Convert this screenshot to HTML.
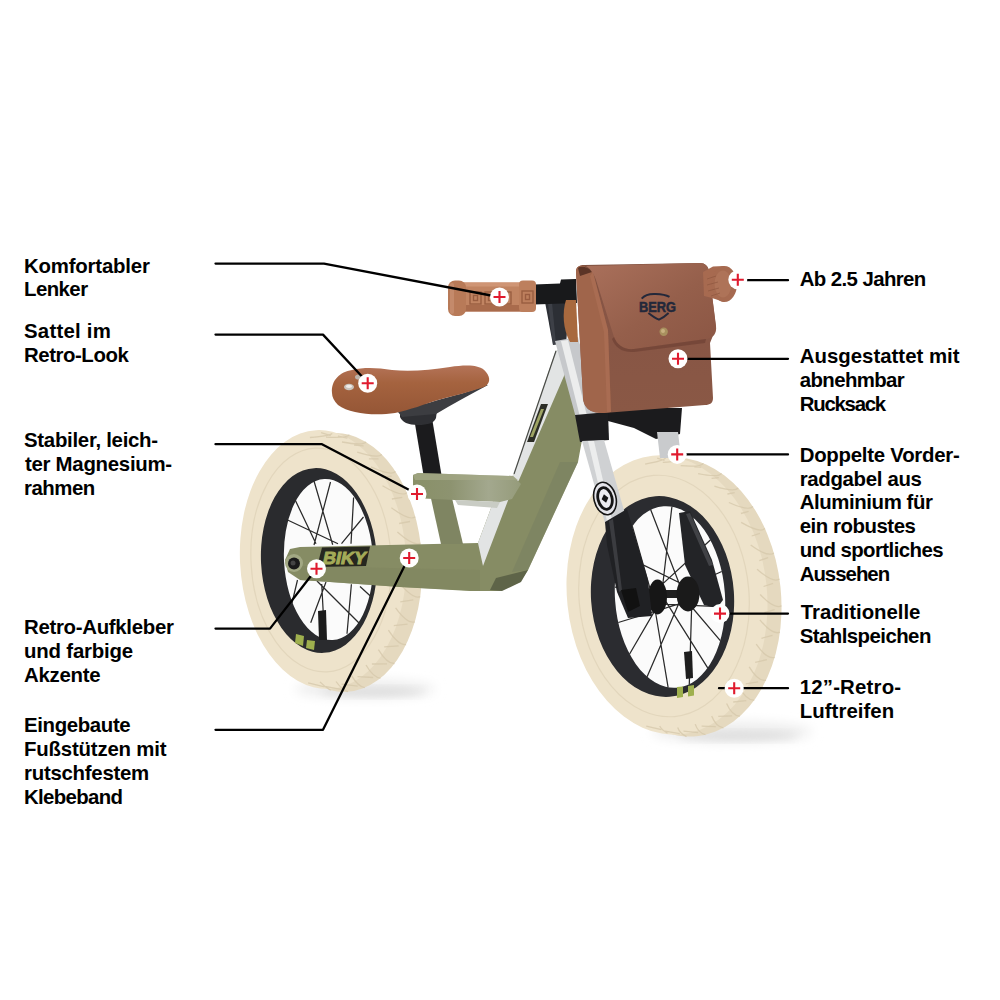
<!DOCTYPE html>
<html><head><meta charset="utf-8">
<style>
html,body{margin:0;padding:0;background:#fff;}
body{width:1000px;height:1000px;position:relative;overflow:hidden;}
svg{position:absolute;left:0;top:0;}
.t{position:absolute;font-family:"Liberation Sans",sans-serif;font-weight:bold;font-size:20.4px;line-height:24px;color:#000;white-space:nowrap;}
</style></head><body>
<svg width="1000" height="1000" viewBox="0 0 1000 1000">
<defs>
<filter id="blur6" x="-50%" y="-50%" width="200%" height="200%"><feGaussianBlur stdDeviation="6"/></filter>
</defs>
<!-- shadows -->
<filter id="blur4" x="-50%" y="-50%" width="200%" height="200%"><feGaussianBlur stdDeviation="4"/></filter>
<ellipse cx="365" cy="689" rx="70" ry="9" fill="#ececec" filter="url(#blur6)"/>
<ellipse cx="372" cy="692" rx="52" ry="4" fill="#dcdcdc" filter="url(#blur4)"/>
<ellipse cx="732" cy="732" rx="80" ry="10" fill="#ececec" filter="url(#blur6)"/>
<ellipse cx="738" cy="736" rx="60" ry="4" fill="#dcdcdc" filter="url(#blur4)"/>

<!-- REAR WHEEL -->
<g id="rear">
<ellipse cx="340" cy="562.5" rx="82" ry="129.5" transform="rotate(-3 340 562.5)" fill="#e5d9bf"/>
<ellipse cx="323" cy="559.5" rx="83" ry="129.5" transform="rotate(-3 323 559.5)" fill="#eee3cb"/>
<path d="M309.9 437.5Q330.7 435.7 332.1 433.3M321.1 432.7L330.7 435.7M326.0 437.1Q347.4 438.1 349.3 434.8M337.9 436.2L347.4 438.1M342.0 442.0Q363.5 445.9 366.0 441.9M354.1 445.0L363.5 445.9M357.2 452.1Q378.5 458.8 381.7 454.4M368.9 458.9L378.5 458.8M370.9 466.9Q391.6 476.2 395.5 471.5M381.7 477.1L391.6 476.2M382.5 485.7Q402.3 497.4 406.9 492.6M391.9 499.0L402.3 497.4M391.4 507.8Q410.0 521.5 415.3 516.8M399.1 523.5L410.0 521.5M397.4 532.1Q414.5 547.3 420.5 542.9M403.0 549.5L414.5 547.3M400.2 557.6Q415.6 573.8 422.2 569.9M403.4 576.0L415.6 573.8M399.6 583.2Q413.3 599.8 420.2 596.6M400.3 601.8L413.3 599.8M395.6 607.8Q407.5 624.2 414.8 621.8M393.8 625.7L407.5 624.2M388.4 630.2Q398.6 645.9 406.1 644.5M384.2 646.8L398.6 645.9M378.4 649.6Q387.0 663.9 394.5 663.5M371.9 664.0L387.0 663.9M366.0 665.0Q373.2 677.5 380.5 678.1M357.5 676.7L373.2 677.5M351.7 675.8Q357.7 686.1 364.8 687.7M341.6 684.2L357.7 686.1M336.1 681.5Q341.3 689.3 347.9 691.7M324.9 686.3L341.3 689.3M320.0 681.9Q324.6 686.9 330.7 690.2M308.1 682.8L324.6 686.9" stroke="#d6c8ab" stroke-width="1.3" fill="none" opacity="0.8"/>
<ellipse cx="321" cy="560" rx="70" ry="112" transform="rotate(-3 321 560)" fill="none" stroke="#e2d6bc" stroke-width="1.2"/>
<ellipse cx="319" cy="560.5" rx="58" ry="92.5" transform="rotate(-3 319 560.5)" fill="#2a2b2e"/>
<ellipse cx="328.5" cy="559.5" rx="44.5" ry="80.5" transform="rotate(-3 328.5 559.5)" fill="#fbfbfb"/>
<g stroke="#2a2a2a" stroke-width="1.25" fill="none">
<path d="M332.7 544.8L314 481M314 545L330.5 482M316 543.7L294 497.5M338 543.7L286.5 519.5M351 543.7L353.6 497.5M341.5 543.7L363.5 517M317 581L360 624M326 582L310.7 622.8M321.7 584L324.5 636M351.4 584.3L347 633.8M360 586.5L372 597.5M297.5 580L292 603"/>
</g>
<path d="M296 634 L304 636 L303 646 L295 643 Z" fill="#9fb04e"/>
<path d="M307 640 L315 641 L314 650 L306 648 Z" fill="#9fb04e"/>
<path d="M318 611 L326 610 L327 640 L319 640 Z" fill="#1c1c1c"/>
</g>

<!-- FRONT WHEEL -->
<g id="front">
<ellipse cx="682" cy="597" rx="99" ry="140" transform="rotate(-6 682 597)" fill="#e5d9bf"/>
<ellipse cx="667" cy="595" rx="100" ry="140" transform="rotate(-6 667 595)" fill="#eee3cb"/>
<path d="M645.1 464.1Q664.5 460.5 665.4 458.0M657.2 458.2L664.5 460.5M662.8 462.4Q683.0 461.3 684.4 458.0M675.9 460.0L683.0 461.3M680.7 465.7Q701.3 467.1 703.4 463.2M694.3 466.8L701.3 467.1M698.1 473.6Q718.8 477.7 721.5 473.3M711.6 478.3L718.8 477.7M714.4 486.1Q734.7 492.6 738.2 487.9M727.4 494.0L734.7 492.6M728.9 502.5Q748.6 511.4 752.9 506.5M740.9 513.5L748.6 511.4M741.2 522.4Q759.9 533.4 764.9 528.5M751.7 536.0L759.9 533.4M750.7 544.9Q768.1 557.7 773.9 552.9M759.3 560.6L768.1 557.7M757.1 569.2Q773.1 583.4 779.5 579.0M763.6 586.5L773.1 583.4M760.2 594.5Q774.6 609.6 781.5 605.8M764.4 612.7L774.6 609.6M759.9 619.8Q772.5 635.4 779.9 632.2M761.5 638.3L772.5 635.4M756.2 644.2Q766.9 659.7 774.7 657.3M755.2 662.3L766.9 659.7M749.2 666.8Q758.1 681.8 766.0 680.2M745.7 683.8L758.1 681.8M739.2 686.8Q746.3 700.7 754.3 700.1M733.2 702.0L746.3 700.7M726.6 703.4Q732.1 715.8 739.9 716.2M718.3 716.3L732.1 715.8M711.7 716.0Q715.8 726.6 723.4 727.9M701.6 726.2L715.8 726.6M695.2 724.1Q698.1 732.6 705.4 734.7M683.5 731.2L698.1 732.6M677.7 727.5Q679.8 733.6 686.5 736.6M664.9 731.2L679.8 733.6M659.7 726.1Q661.3 729.6 667.5 733.3M646.3 726.2L661.3 729.6" stroke="#d6c8ab" stroke-width="1.3" fill="none" opacity="0.8"/>
<ellipse cx="664" cy="596" rx="85" ry="121" transform="rotate(-5 664 596)" fill="none" stroke="#e2d6bc" stroke-width="1.2"/>
<ellipse cx="662.5" cy="596.5" rx="71.5" ry="100.5" transform="rotate(-4 662.5 596.5)" fill="#2b2c30"/>
<ellipse cx="670" cy="597" rx="55" ry="91" transform="rotate(-4 670 597)" fill="#fbfbfb"/>
<g stroke="#2a2a2a" stroke-width="1.25" fill="none">
<path d="M656.4 603.9L725.2 606.8M685.8 600.0L720.3 640.6M660.4 592.8L707.7 667.8M692.1 592.3L689.3 684.2M652.8 596.0L668.1 687.3M684.4 590.4L647.1 676.7M659.5 602.6L629.6 654.0M689.0 600.8L618.3 622.5M657.6 590.1L614.8 587.2M690.2 588.0L619.7 553.4M653.6 601.2L632.3 526.2M683.9 595.7L650.7 509.8M661.2 598.0L671.9 506.7M691.6 597.6L692.9 517.3M654.5 591.4L710.4 540.0M687.0 587.2L721.7 571.5"/>
</g>
<!-- right fork (behind) -->
<path d="M679 513 L690 511 L712 560 L723 600 L717 608 L704 605 L685 565 Z" fill="#232427"/>
<path d="M686 514 L690 513 L713 565 L709 566 Z" fill="#55575c" opacity="0.6"/>
<!-- hub -->
<rect x="666" y="590" width="14" height="8" fill="#202020"/>
<ellipse cx="688" cy="594" rx="11.5" ry="17.5" fill="#1a1a1a"/>
<ellipse cx="657.5" cy="597" rx="9.5" ry="17.5" fill="#161616"/>
<!-- rim stripes & valve -->
<path d="M677 687 L683 686.5 L683 697 L677 698 Z" fill="#9fb04e"/>
<path d="M688 686 L694 685 L694 695.5 L688 696.5 Z" fill="#9fb04e"/>
<path d="M684 652 L692 651 L693 678 L686 679 Z" fill="#1e1e1e"/>
</g>

<!-- FRAME -->
<g id="frame">
<!-- seat post -->
<path d="M414 418 L432 418 L442 478 L424 478 Z" fill="#1b1b1d"/>
<!-- main frame -->
<path d="M556 350 L575 352 L582 440 L578 462 L528 570 L520 582 L500 591 L470 591 L400 587 L330 582 L300 580 L288 572 L285 560 L290 549 L300 547 L478 543 L494 500 L514 474 Z" fill="#868c64"/>
<!-- grey side face -->
<path d="M556 350 L572 352 L564 376 L519 480 L512 490 L483 566 L478 543 L494 500 L514 474 Z" fill="#e2e4e4"/>
<path d="M556 351 L514 474" stroke="#4a4c48" stroke-width="1.2"/>
<path d="M527 442 L534 442 L548 404 L541 404 Z" fill="#2c2d26"/>
<path d="M530 437 L533 437 L544 409 L541 409 Z" fill="#9ea464"/>
<!-- dark bottom -->
<path d="M528 570 L521 582 L502 591 L490 590 L496 578 Z" fill="#5e6448"/>
<!-- shading on downtube right -->
<path d="M578 462 L528 570 L512 572 L560 462 Z" fill="#7a8060" opacity="0.6"/>
<!-- seat tube -->
<path d="M430 494 L451 494 L463 544 L441 544 Z" fill="#7f8562"/>
<!-- platform -->
<defs><linearGradient id="platg" x1="0" y1="0" x2="1" y2="0"><stop offset="0" stop-color="#899068"/><stop offset="0.35" stop-color="#8d9370"/><stop offset="0.7" stop-color="#a3a88e"/><stop offset="1" stop-color="#959b7a"/></linearGradient></defs>
<path d="M413 475 L418 473 L513 476 L521 484 L512 499 L500 502 L455 500 L413 498 Z" fill="url(#platg)"/>
<path d="M413 475 L418 473 L513 476 L518 480 L415 480 Z" fill="#a5aa88" opacity="0.7"/>
<path d="M455 500 L500 502 L497 508 L458 505 Z" fill="#c9ccc4"/>
<!-- chain stay lower shade -->
<path d="M300 566 L480 570 L480 591 L400 587 L330 582 L300 580 Z" fill="#80865f" opacity="0.7"/>
<!-- BIKY decal -->
<path d="M322 547.5 L370 546.5 L366 566 L317 567 Z" fill="#26271f"/>
<text x="0" y="0" transform="translate(322 564) skewX(-12)" font-family="Liberation Sans" font-weight="bold" font-size="17.5" fill="#a3ab58" stroke="#a3ab58" stroke-width="1" textLength="43" lengthAdjust="spacingAndGlyphs">BIKY</text>
<!-- rear hub -->
<circle cx="294" cy="563" r="9" fill="#a2a883"/>
<circle cx="294" cy="563.5" r="6" fill="#1a1a1a"/>
<circle cx="293" cy="563" r="2.5" fill="#444"/>
</g>

<!-- SADDLE -->
<path d="M400 405 L438 403 L436 418 C434 423 428 425 418 425 C408 425 402 422 400 417 Z" fill="#2e2f33"/>
<path d="M486 385 C470 392 452 396 438 400 C425 404 412 408 398 412 L402 417 L436 414 C452 404 470 395 488 385 Z" fill="#3c3d41"/>
<defs><linearGradient id="sadg" x1="0" y1="0" x2="0" y2="1"><stop offset="0" stop-color="#b47358"/><stop offset="0.35" stop-color="#a5633f"/><stop offset="1" stop-color="#955636"/></linearGradient></defs>
<path d="M332 393 C331 380 340 372 352 370 C365 367 378 368 392 370 C410 372 430 370 450 367 C465 365 480 364 486 372 C491 378 490 384 484 387 C470 392 452 396 438 400 C425 404 410 410 395 413 C375 416 350 414 338 405 C334 401 332 397 332 393 Z" fill="url(#sadg)"/>
<ellipse cx="349" cy="387" rx="5" ry="3.2" fill="#c9c3bc"/><ellipse cx="349" cy="386.3" rx="3" ry="1.6" fill="#f0ece8"/>
<ellipse cx="359" cy="377" rx="4" ry="2.6" fill="#bdb4ab"/>

<!-- STEM / HANDLEBAR -->
<path d="M545 302 L570 302 L566 343 L553 345 Z" fill="#2c2f35"/>
<path d="M548 303 L552 303 L556 344 L553 345 Z" fill="#4a4d54" opacity="0.6"/>
<path d="M534 284.5 L560 283.5 L561 279.5 L576 279 L577 303 L534 304.5 Z" fill="#18191b"/>
<!-- left grip -->
<rect x="462" y="282.5" width="62" height="29" fill="#c18462"/>
<rect x="462" y="305" width="62" height="6.5" fill="#a96b4c"/>
<rect x="462" y="282.5" width="62" height="4" fill="#cf9575"/>
<rect x="519" y="280.5" width="17" height="31.5" rx="4" fill="#bd7f5d"/>
<rect x="448" y="280.5" width="18" height="35.5" rx="7" fill="#b87a58"/>
<rect x="450" y="283" width="4" height="31" rx="2" fill="#c99273" opacity="0.7"/>
<g fill="none" stroke="#93573b" stroke-width="1.4" opacity="0.85">
<rect x="470" y="292" width="11" height="12"/><rect x="473.5" y="295.5" width="4" height="5"/>
<rect x="485" y="292" width="11" height="12"/><rect x="488.5" y="295.5" width="4" height="5"/>
<rect x="500" y="292" width="11" height="12"/><rect x="503.5" y="295.5" width="4" height="5"/>
<rect x="522" y="291" width="11" height="12"/><rect x="525.5" y="294.5" width="4" height="5"/>
</g>
<!-- silver tube upper -->
<path d="M555 341 L578 337 L598 415 L576 418 Z" fill="#c6c8cb"/>
<path d="M561 341 L568 340 L587 416 L580 417 Z" fill="#eceded"/>
<!-- crown under bag -->
<path d="M600 408 L682 408 L680 434 L656 439 L634 428 L608 421 Z" fill="#1b1b1d"/>
<!-- right fork silver top -->
<path d="M657 432 L678 432 L681 458 L660 458 Z" fill="#c9cbcd"/>
<!-- collar -->
<path d="M575 415 L608 412 L609 440 L580 442 Z" fill="#1d1d1f"/>
<!-- lower silver -->
<path d="M582 441 L604 440 L625 514 L605 523 Z" fill="#cfd1d3"/>
<path d="M588 441 L594 441 L612 520 L607 521 Z" fill="#eceded"/>
<!-- fork logo -->
<g transform="translate(605 498.5) rotate(-14)">
<ellipse rx="11" ry="16.5" fill="#e4e4ea" stroke="#151515" stroke-width="1.6"/>
<ellipse rx="7" ry="11" fill="#ececf0" stroke="#151515" stroke-width="2.8"/>
<path d="M0 -4.5 L3.5 0 L0 4.5 L-3.5 0 Z" fill="#151515"/>
</g>
<!-- lower black fork -->
<path d="M605 522 L627 509 L648 580 L652 616 L628 618 L617 592 L607 545 Z" fill="#202124"/>
<path d="M609 521 L613 519 L622 590 L619 592 Z" fill="#56585c" opacity="0.5"/>
<path d="M621 590 L636 588 L640 606 L628 612 Z" fill="#111"/>

<!-- BAG -->
<defs>
<linearGradient id="flapg" x1="0" y1="0" x2="1" y2="1"><stop offset="0" stop-color="#aa705b"/><stop offset="0.55" stop-color="#955f4b"/><stop offset="1" stop-color="#8b5644"/></linearGradient>
<linearGradient id="bodyg" x1="0" y1="0" x2="0" y2="1"><stop offset="0" stop-color="#7e503f"/><stop offset="0.3" stop-color="#875545"/><stop offset="1" stop-color="#8a5845"/></linearGradient>
</defs>
<!-- strap -->
<path d="M566 300 C562 312 563 330 570 342 L578 342 L576 300 Z" fill="#a8693e"/>
<!-- silhouette / body -->
<path d="M576 272 C576 267 579 265 584 265 L700 263 C705 263 708 266 709 271 L716 328 L710 343 L713 398 C713 403 710 405 705 405 L604 413 C597 413 592 412 588 409 C585 406 583 402 583 396 Z" fill="url(#bodyg)"/>
<!-- gusset -->
<path d="M576 272 C576 267 579 265 584 266 L593 272 L608 330 L611 412 L604 413 C597 413 592 412 588 409 C585 406 583 402 583 396 Z" fill="#a0654b"/>
<path d="M593 272 L608 330 L611 412 L607 412 L604 332 L590 276 Z" fill="#b4765a" opacity="0.45"/>
<path d="M578 268 C580 266 588 266 592 272 L580 276 Z" fill="#5b3426"/>
<!-- flap -->
<path d="M586 266 L700 263 C705 263 708 266 709 271 L716 326 C717 334 713 338 706 339 L634 349 C624 350 617 345 614 337 L596 280 C594 274 591 269 586 266 Z" fill="url(#flapg)"/>
<path d="M614 337 C617 345 624 350 634 349 L706 339 L705 343 L634 352 C622 353 615 347 612 339 Z" fill="#6f4234" opacity="0.7"/>
<!-- BERG logo -->
<path d="M641.7 298.6 Q646 293.5 655.6 294 Q665 294.3 669.5 296.9" stroke="#23283a" stroke-width="2" fill="none"/>
<path d="M648.4 313 Q654.5 317.8 659 319.6 Q663.5 317.8 668.6 313" stroke="#23283a" stroke-width="2" fill="none"/>
<text x="657.5" y="311.5" text-anchor="middle" font-family="Liberation Sans" font-weight="bold" font-size="14.3" fill="#23283a" stroke="#23283a" stroke-width="0.5" textLength="37" lengthAdjust="spacingAndGlyphs">BERG</text>
<circle cx="663.7" cy="331.8" r="4.2" fill="#a8905e"/>
<circle cx="663" cy="331" r="2" fill="#c8b080"/>
<!-- right grip -->
<path d="M703 272 L713 266.5 L724 266 L724 302 L712 298 L704 296 Z" fill="#a76a50"/>
<ellipse cx="724.4" cy="284" rx="12.6" ry="18" fill="#a66a50"/>
<ellipse cx="723" cy="284" rx="8.5" ry="13.5" fill="#b47a5f" opacity="0.55"/>
<g stroke="#86503a" stroke-width="0.9" opacity="0.6" fill="none"><path d="M707 279 L716 276 M707 285 L718 282 M708 291 L719 288 M711 296 L720 293"/></g>

<!-- CALLOUT LINES -->
<g stroke="#000" stroke-width="2.3" fill="none" stroke-linejoin="round" stroke-linecap="round">
<polyline points="215.5,263.6 324,263.6 499,297"/>
<polyline points="215.5,334.6 323,334.6 368,383"/>
<polyline points="215.5,444.2 322,444.2 417,494"/>
<polyline points="215.5,628.6 270,628.6 316.5,568.7"/>
<polyline points="215.5,729.8 323,729.8 408.7,557.5"/>
<line x1="738" y1="280.2" x2="788" y2="280.2"/>
<line x1="678" y1="358.8" x2="788" y2="358.8"/>
<line x1="677" y1="454.4" x2="788" y2="454.4"/>
<line x1="720" y1="613.6" x2="788" y2="613.6"/>
<line x1="719" y1="688.2" x2="788" y2="688.2"/>
</g>
<!-- PLUS MARKERS -->
<g id="plus">
<g transform="translate(499.5,297)"><circle r="9.5" fill="#fff"/><path d="M-6 0H6M0 -6V6" stroke="#e01a2e" stroke-width="2.1"/></g>
<g transform="translate(367.7,383.3)"><circle r="9.5" fill="#fff"/><path d="M-6 0H6M0 -6V6" stroke="#e01a2e" stroke-width="2.1"/></g>
<g transform="translate(417,494)"><circle r="9.5" fill="#fff"/><path d="M-6 0H6M0 -6V6" stroke="#e01a2e" stroke-width="2.1"/></g>
<g transform="translate(316.5,568.7)"><circle r="9.5" fill="#fff"/><path d="M-6 0H6M0 -6V6" stroke="#e01a2e" stroke-width="2.1"/></g>
<g transform="translate(409.2,558)"><circle r="9.5" fill="#fff"/><path d="M-6 0H6M0 -6V6" stroke="#e01a2e" stroke-width="2.1"/></g>
<g transform="translate(737.8,279.8)"><circle r="9.5" fill="#fff"/><path d="M-6 0H6M0 -6V6" stroke="#e01a2e" stroke-width="2.1"/></g>
<g transform="translate(678,358.8)"><circle r="9.5" fill="#fff"/><path d="M-6 0H6M0 -6V6" stroke="#e01a2e" stroke-width="2.1"/></g>
<g transform="translate(677.2,454.4)"><circle r="9.5" fill="#fff"/><path d="M-6 0H6M0 -6V6" stroke="#e01a2e" stroke-width="2.1"/></g>
<g transform="translate(720,613.6)"><circle r="9.5" fill="#fff"/><path d="M-6 0H6M0 -6V6" stroke="#e01a2e" stroke-width="2.1"/></g>
<g transform="translate(734.2,688.2)"><circle r="9.5" fill="#fff"/><path d="M-6 0H6M0 -6V6" stroke="#e01a2e" stroke-width="2.1"/></g>
</g>
</svg>

<div class="t" style="left:24.0px;top:253.7px;letter-spacing:-0.200px">Komfortabler</div>
<div class="t" style="left:24.0px;top:277.4px;letter-spacing:-0.560px">Lenker</div>
<div class="t" style="left:24.0px;top:318.8px;letter-spacing:0.225px">Sattel im</div>
<div class="t" style="left:24.0px;top:342.7px;letter-spacing:-0.444px">Retro-Look</div>
<div class="t" style="left:24.0px;top:428.2px;letter-spacing:-0.280px">Stabiler, leich-</div>
<div class="t" style="left:25.0px;top:452.0px;letter-spacing:-0.277px">ter Magnesium-</div>
<div class="t" style="left:24.0px;top:476.0px;letter-spacing:-0.480px">rahmen</div>
<div class="t" style="left:24.0px;top:615.4px;letter-spacing:-0.300px">Retro-Aufkleber</div>
<div class="t" style="left:24.0px;top:639.2px;letter-spacing:-0.180px">und farbige</div>
<div class="t" style="left:24.0px;top:663.0px;letter-spacing:-0.267px">Akzente</div>
<div class="t" style="left:24.0px;top:713.4px;letter-spacing:-0.356px">Eingebaute</div>
<div class="t" style="left:24.0px;top:737.2px;letter-spacing:-0.185px">Fußstützen mit</div>
<div class="t" style="left:24.0px;top:761.2px;letter-spacing:-0.255px">rutschfestem</div>
<div class="t" style="left:24.0px;top:785.0px;letter-spacing:-0.650px">Klebeband</div>
<div class="t" style="left:799.7px;top:267.0px;letter-spacing:-0.592px">Ab 2.5 Jahren</div>
<div class="t" style="left:799.7px;top:344.2px;letter-spacing:0.007px">Ausgestattet mit</div>
<div class="t" style="left:799.7px;top:368.0px;letter-spacing:-0.600px">abnehmbar</div>
<div class="t" style="left:799.7px;top:391.6px;letter-spacing:-1.243px">Rucksack</div>
<div class="t" style="left:799.7px;top:443.0px;letter-spacing:-0.253px">Doppelte Vorder-</div>
<div class="t" style="left:799.7px;top:466.6px;letter-spacing:-0.327px">radgabel aus</div>
<div class="t" style="left:799.7px;top:490.4px;letter-spacing:-0.408px">Aluminium für</div>
<div class="t" style="left:799.7px;top:514.2px;letter-spacing:-0.455px">ein robustes</div>
<div class="t" style="left:799.7px;top:538.0px;letter-spacing:-0.571px">und sportliches</div>
<div class="t" style="left:799.7px;top:561.8px;letter-spacing:-1.000px">Aussehen</div>
<div class="t" style="left:800.7px;top:600.4px;letter-spacing:-0.033px">Traditionelle</div>
<div class="t" style="left:799.7px;top:624.4px;letter-spacing:-0.550px">Stahlspeichen</div>
<div class="t" style="left:799.7px;top:675.0px;letter-spacing:0.189px">12”-Retro-</div>
<div class="t" style="left:799.7px;top:698.6px;letter-spacing:0.056px">Luftreifen</div>
</body></html>
